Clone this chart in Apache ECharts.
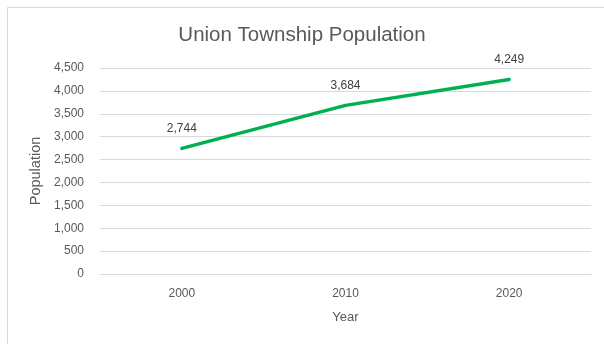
<!DOCTYPE html>
<html>
<head>
<meta charset="utf-8">
<script src="https://cdn.jsdelivr.net/npm/echarts@6/dist/echarts.min.js"></script>
<style>
  html, body { margin: 0; padding: 0; background: #fff; }
  #chart { width: 604px; height: 344px; }
</style>
</head>
<body>
<div id="chart"></div>
<script>
// Census years and population counts
const years = ['2000', '2010', '2020'];
const population = [2744, 3684, 4249];

const FONT = '"Liberation Sans", "DejaVu Sans", sans-serif';
const chart = echarts.init(document.getElementById('chart'));

chart.setOption({
  animation: false,
  backgroundColor: '#ffffff',
  textStyle: { fontFamily: FONT },
  graphic: [{
    type: 'rect',
    silent: true,
    shape: { x: 7.5, y: 7.5, width: 700, height: 400 },
    style: { fill: 'none', stroke: '#d9d9d9', lineWidth: 1 }
  }],
  title: {
    text: 'Union Township Population',
    left: 'center',
    top: 20,
    textStyle: { fontFamily: FONT, fontSize: 20.5, fontWeight: 'normal', color: '#595959' }
  },
  grid: { left: 100, right: 13, top: 68, bottom: 70, containLabel: false },
  xAxis: {
    type: 'category',
    data: years,
    boundaryGap: true,
    name: 'Year',
    nameLocation: 'middle',
    nameGap: 37,
    nameTextStyle: { fontFamily: FONT, fontSize: 13, color: '#595959' },
    axisLine: { show: true, lineStyle: { color: '#d9d9d9', width: 1 } },
    axisTick: { show: false },
    axisLabel: { fontFamily: FONT, fontSize: 12, color: '#595959', margin: 14 }
  },
  yAxis: {
    type: 'value',
    min: 0,
    max: 4500,
    interval: 500,
    name: 'Population',
    nameLocation: 'middle',
    nameRotate: 90,
    nameGap: 50,
    nameTextStyle: { fontFamily: FONT, fontSize: 14.5, color: '#595959' },
    axisLine: { show: false },
    axisTick: { show: false },
    splitLine: { lineStyle: { color: '#d9d9d9', width: 1 } },
    axisLabel: {
      fontFamily: FONT, fontSize: 12, color: '#595959', margin: 16,
      formatter: v => v.toLocaleString('en-US')
    }
  },
  series: [{
    type: 'line',
    data: population,
    symbol: 'circle',
    symbolSize: 1,
    itemStyle: { color: 'rgba(0,0,0,0)' },
    lineStyle: { color: '#00b050', width: 3.5, cap: 'round' },
    label: {
      show: true,
      position: 'top',
      distance: 13,
      fontFamily: FONT,
      fontSize: 12,
      color: '#404040',
      formatter: p => p.value.toLocaleString('en-US')
    }
  }]
});
</script>
</body>
</html>
